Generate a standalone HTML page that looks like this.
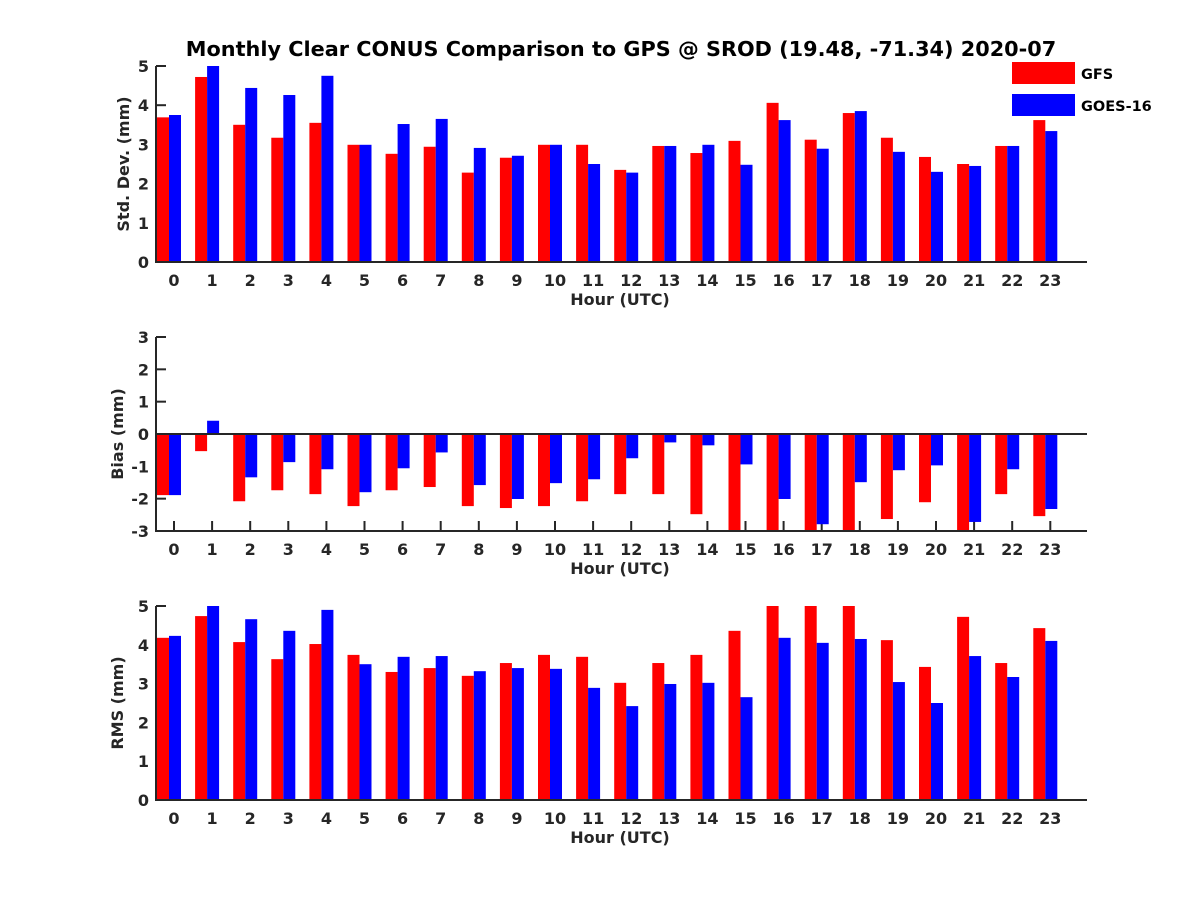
<!DOCTYPE html>
<html>
<head>
<meta charset="utf-8">
<style>
  html,body{margin:0;padding:0;background:#fff;}
  svg{display:block;}
  text{font-family:"DejaVu Sans","Liberation Sans",sans-serif;font-weight:bold;fill:#262626;}
</style>
</head>
<body>
<svg id="chart" width="1200" height="900" viewBox="0 0 1200 900">
  <text x="621" y="56" font-size="20.8" text-anchor="middle" style="fill:#000">Monthly Clear CONUS Comparison to GPS @ SROD (19.48, -71.34) 2020-07</text>
  <g id="legend">
    <rect x="1012" y="62" width="63" height="22" fill="#ff0000"></rect>
    <text x="1081" y="79" font-size="14.5" style="fill:#000">GFS</text>
    <rect x="1012" y="94" width="63" height="22" fill="#0000ff"></rect>
    <text x="1081" y="111" font-size="14.5" style="fill:#000">GOES-16</text>
  </g>
</svg>
<script>
const hours = [0,1,2,3,4,5,6,7,8,9,10,11,12,13,14,15,16,17,18,19,20,21,22,23];
const stdGfs  = [3.69,4.72,3.50,3.17,3.55,2.99,2.76,2.94,2.28,2.66,2.99,2.99,2.35,2.96,2.78,3.09,4.06,3.12,3.80,3.17,2.68,2.50,2.96,3.62];
const stdGoes = [3.75,5.00,4.44,4.26,4.75,2.99,3.52,3.65,2.91,2.71,2.99,2.50,2.28,2.96,2.99,2.48,3.62,2.89,3.85,2.81,2.30,2.45,2.96,3.34];
const biasGfs  = [-1.89,-0.53,-2.08,-1.74,-1.86,-2.23,-1.74,-1.64,-2.23,-2.29,-2.23,-2.08,-1.86,-1.86,-2.48,-3.0,-3.0,-3.0,-3.0,-2.63,-2.11,-3.0,-1.86,-2.54];
const biasGoes = [-1.89,0.41,-1.34,-0.87,-1.09,-1.80,-1.06,-0.57,-1.58,-2.01,-1.52,-1.40,-0.75,-0.26,-0.35,-0.94,-2.01,-2.79,-1.49,-1.12,-0.97,-2.72,-1.09,-2.32];
const rmsGfs  = [4.18,4.74,4.07,3.63,4.02,3.74,3.30,3.40,3.20,3.53,3.74,3.69,3.02,3.53,3.74,4.36,5.0,5.0,5.0,4.12,3.43,4.72,3.53,4.43];
const rmsGoes = [4.23,5.00,4.66,4.36,4.90,3.50,3.69,3.71,3.32,3.40,3.38,2.89,2.42,2.99,3.02,2.65,4.18,4.05,4.15,3.04,2.50,3.71,3.17,4.10];
const stdTicks = [0,1,2,3,4,5];
const biasTicks = [-3,-2,-1,0,1,2,3];
const rmsTicks = [0,1,2,3,4,5];

const NS = "http://www.w3.org/2000/svg";
const svg = document.getElementById('chart');
const legend = document.getElementById('legend');
const AX_L = 156, AX_R = 1087;
function xScale(h){ return 174 + 38.1*h; }
function mk(tag, attrs, parent){
  const e = document.createElementNS(NS, tag);
  for (const k in attrs) e.setAttribute(k, attrs[k]);
  if (parent) parent.appendChild(e); else svg.insertBefore(e, legend);
  return e;
}
function panel(key, top, bottom, ymin, ymax, yticks, gfs, goes, ytitle, zeroLine){
  const g = document.createElementNS(NS,'g');
  
  
  svg.insertBefore(g, legend);
  const y = v => bottom - (v - ymin) * (bottom - top) / (ymax - ymin);
  const clamp = v => Math.max(ymin, Math.min(ymax, v));
  hours.forEach(h=>{
    const t = mk('line',{x1:xScale(h),x2:xScale(h),y1:bottom,y2:bottom-10,stroke:'#262626','stroke-width':2},g);
    
    
    const lb = mk('text',{x:xScale(h),y:bottom+24,'font-size':16,'text-anchor':'middle'},g);
    lb.textContent = h;
    
    
  });
  yticks.forEach(v=>{
    const t = mk('line',{x1:AX_L,x2:AX_L+10,y1:y(v),y2:y(v),stroke:'#262626','stroke-width':2},g);
    
    
    const lb = mk('text',{x:AX_L-7,y:y(v)+6,'font-size':16,'text-anchor':'end'},g);
    lb.textContent = v;
    
    
  });
  const base = y(clamp(0));
  hours.forEach((h,i)=>{
    const a = y(clamp(gfs[i]));
    const r = mk('rect',{x:xScale(h)-17,y:Math.min(a,base),width:12,height:Math.abs(a-base),fill:'#ff0000'},g);
    
    
    const b = y(clamp(goes[i]));
    const r2 = mk('rect',{x:xScale(h)-5,y:Math.min(b,base),width:12,height:Math.abs(b-base),fill:'#0000ff'},g);
    
    
  });
  if (zeroLine){
    const z = mk('line',{x1:AX_L,x2:AX_R,y1:y(0),y2:y(0),stroke:'#262626','stroke-width':2},g);
    
    
  }
  const ya = mk('line',{x1:AX_L,x2:AX_L,y1:top,y2:bottom+1,stroke:'#262626','stroke-width':2},g);
  
  
  const xa = mk('line',{x1:AX_L-1,x2:AX_R,y1:bottom,y2:bottom,stroke:'#262626','stroke-width':2},g);
  
  
  const xt = mk('text',{x:620,y:bottom+43,'font-size':16,'text-anchor':'middle'},g);
  xt.textContent = 'Hour (UTC)';
  
  
  const cy = (top+bottom)/2;
  const yx = ytitle.length > 10 ? 129 : 123;
  const ytt = mk('text',{x:yx,y:cy,'font-size':16,'text-anchor':'middle',transform:'rotate(-90 '+yx+' '+cy+')'},g);
  ytt.textContent = ytitle;
  
  
}
panel('std', 66, 262, 0, 5, stdTicks, stdGfs, stdGoes, 'Std. Dev. (mm)', false);
panel('bias', 337, 531, -3, 3, biasTicks, biasGfs, biasGoes, 'Bias (mm)', true);
panel('rms', 606, 800, 0, 5, rmsTicks, rmsGfs, rmsGoes, 'RMS (mm)', false);
</script>
</body>
</html>
